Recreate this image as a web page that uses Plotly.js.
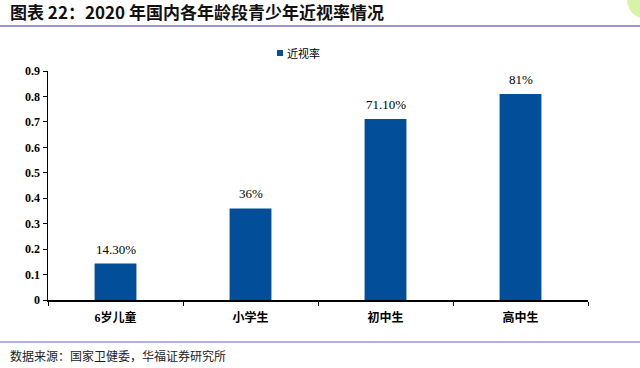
<!DOCTYPE html>
<html>
<head>
<meta charset="utf-8">
<script src="https://cdn.plot.ly/plotly-3.0.1.min.js"></script>
<style>html,body{margin:0;padding:0;background:#fff;}#chart{width:640px;height:368px;}</style>
</head>
<body>
<div id="chart"></div>
<script>
const categories = ["6岁儿童", "小学生", "初中生", "高中生"];
const rates = [0.143, 0.36, 0.711, 0.81];
const rateLabels = ["14.30%", "36%", "71.10%", "81%"];
const seriesName = "近视率";
const yTicks = [0, 0.1, 0.2, 0.3, 0.4, 0.5, 0.6, 0.7, 0.8, 0.9];

const L = 48, R = 52, T = 71, B = 68, W = 640, H = 368;
const pw = W - L - R, ph = H - T - B;
const px = x => (x - L) / pw;
const py = y => (H - B - y) / ph;
const barColor = "#024E98";

const trace = {
  type: "bar",
  x: categories,
  y: rates,
  name: seriesName,
  marker: {color: barColor},
  hoverinfo: "none",
  showlegend: false
};

const labelAnnotations = categories.map((c, i) => ({
  x: c, y: rates[i], xref: "x", yref: "y", text: rateLabels[i],
  showarrow: false, yanchor: "bottom", yshift: 5,
  font: {family: "Liberation Serif, Times New Roman, serif", size: 13, color: "#000"}
}));

const layout = {
  width: W, height: H,
  margin: {l: L, r: R, t: T, b: B},
  paper_bgcolor: "#fff", plot_bgcolor: "#fff",
  bargap: 0.69,
  showlegend: false,
  xaxis: {
    showline: true, linecolor: "#000", linewidth: 1.5,
    ticks: "outside", tickson: "boundaries", ticklen: 4, tickcolor: "#000",
    ticklabelstandoff: 6,
    tickfont: {family: "Liberation Serif, Noto Sans CJK SC", size: 12, color: "#000", weight: "bold"},
    showgrid: false, zeroline: false
  },
  yaxis: {
    range: [0, 0.9], tickvals: yTicks, ticktext: yTicks.map(v => String(v)),
    showline: true, linecolor: "#000", linewidth: 1.5,
    ticks: "outside", ticklen: 4, tickcolor: "#000",
    tickfont: {family: "Liberation Serif, Times New Roman, serif", size: 12, color: "#000", weight: "bold"},
    showgrid: false, zeroline: false
  },
  shapes: [
    {type: "line", xref: "paper", yref: "paper", x0: px(0), x1: px(640), y0: py(26), y1: py(26),
     line: {color: "#7474CC", width: 1.5}},
    {type: "line", xref: "paper", yref: "paper", x0: px(0), x1: px(640), y0: py(342), y1: py(342),
     line: {color: "#9A9ADA", width: 1.5}},
    {type: "circle", xref: "paper", yref: "paper", x0: px(627), x1: px(660), y0: py(-20), y1: py(18),
     fillcolor: "#D8F2A8", line: {width: 0}},
    {type: "rect", xref: "paper", yref: "paper", x0: px(277), x1: px(283), y0: py(50), y1: py(56),
     fillcolor: barColor, line: {width: 0}}
  ],
  annotations: labelAnnotations.concat([
    {text: seriesName, xref: "paper", yref: "paper",
     x: px(285), y: py(53), xanchor: "left", yanchor: "middle", showarrow: false,
     font: {family: "Noto Sans CJK SC", size: 11, color: "#000"}},
    {text: "图表 22：2020 年国内各年龄段青少年近视率情况", xref: "paper", yref: "paper",
     x: px(8), y: py(12), xanchor: "left", yanchor: "middle", showarrow: false,
     font: {family: "Noto Sans CJK SC", size: 17, color: "#111", weight: "bold"}},
    {text: "数据来源：国家卫健委，华福证券研究所", xref: "paper", yref: "paper",
     x: px(8), y: py(355), xanchor: "left", yanchor: "middle", showarrow: false,
     font: {family: "Noto Sans CJK SC", size: 12, color: "#222"}}
  ])
};

Plotly.newPlot("chart", [trace], layout, {staticPlot: true, displayModeBar: false});
</script>
</body>
</html>
